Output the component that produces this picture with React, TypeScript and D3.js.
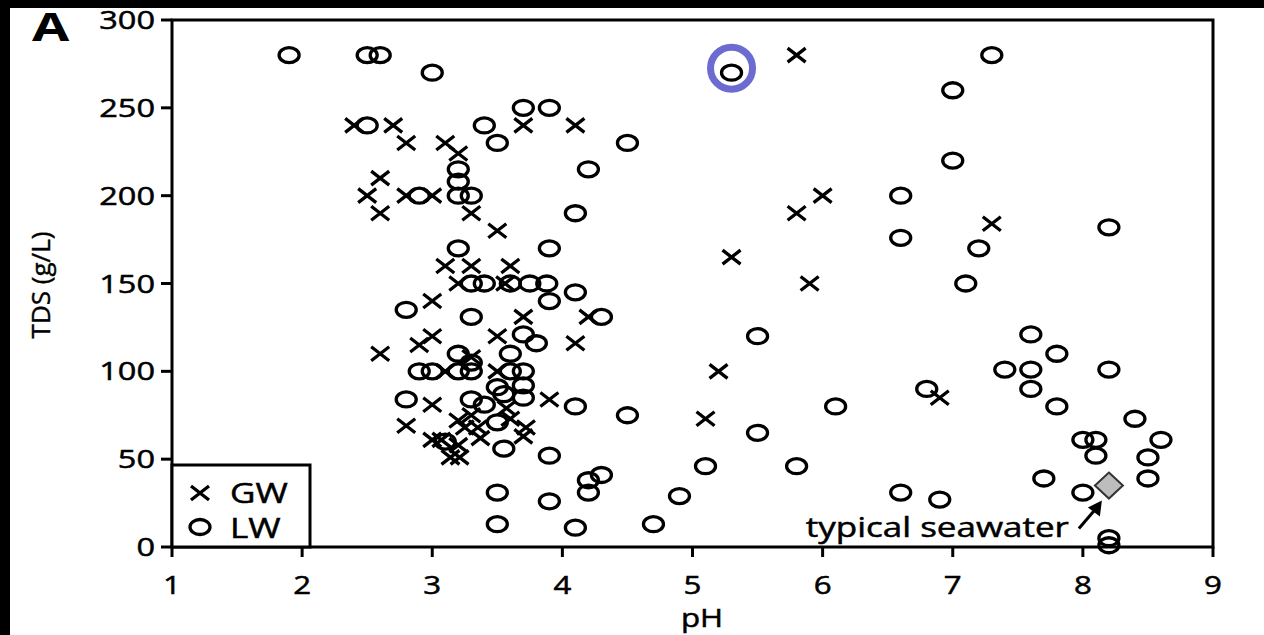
import React, { useEffect, useRef } from 'react';
import * as d3 from 'd3';

// GW = groundwater (crosses), LW = lake water (circles): [pH, TDS g/L]
const gwPoints: [number, number][] = [
  [2.4, 240], [2.7, 240], [2.8, 230], [3.1, 230], [3.2, 224], [3.7, 240], [4.1, 240], [5.8, 280],
  [2.6, 210], [2.5, 200], [2.6, 190], [2.8, 200], [3.0, 200], [3.3, 190], [3.5, 180],
  [6.0, 200], [5.8, 190], [7.3, 184], [5.3, 165], [5.9, 150],
  [3.1, 160], [3.3, 160], [3.6, 160], [3.2, 150], [3.56, 150],
  [3.0, 140], [3.7, 131], [4.2, 131], [3.0, 120], [2.9, 115], [3.5, 120], [4.1, 116], [2.6, 110], [3.3, 108],
  [3.1, 100], [3.5, 100], [5.2, 100],
  [3.0, 81], [3.9, 84], [3.57, 79], [5.1, 73], [6.9, 85],
  [2.8, 69], [3.2, 72], [3.25, 68], [3.3, 75], [3.35, 68], [3.6, 73],
  [3.0, 61], [3.07, 61], [3.37, 62], [3.7, 63], [3.72, 68],
  [3.14, 51], [3.21, 51], [3.2, 58]
];

const lwPoints: [number, number][] = [
  [1.9, 280], [2.5, 280], [2.6, 280], [3.0, 270], [5.3, 270], [7.3, 280],
  [2.5, 240], [3.4, 240], [3.5, 230], [3.7, 250], [3.9, 250], [4.5, 230], [7.0, 260], [7.0, 220],
  [3.2, 215], [3.2, 208], [4.2, 215], [2.9, 200], [3.2, 200], [3.3, 200], [4.1, 190],
  [6.6, 200], [6.6, 176], [7.2, 170], [8.2, 182],
  [3.2, 170], [3.9, 170], [3.3, 150], [3.4, 150], [3.6, 150], [3.75, 150], [3.88, 150], [4.1, 145], [3.9, 140], [7.1, 150],
  [2.8, 135], [3.3, 131], [4.3, 131], [3.7, 121], [3.8, 116], [5.5, 120], [3.2, 110], [3.3, 105], [3.6, 110],
  [2.9, 100], [3.0, 100], [3.2, 100], [3.3, 100], [3.6, 100], [3.7, 100],
  [3.5, 91], [3.7, 92], [3.7, 85], [3.55, 87],
  [2.8, 84], [3.3, 84], [3.4, 81], [4.1, 80], [4.5, 75], [5.5, 65], [6.1, 80],
  [3.5, 71], [3.55, 56], [3.9, 52], [3.1, 60],
  [3.5, 31], [3.9, 26], [4.2, 38], [4.3, 41], [4.2, 31], [4.9, 29], [5.1, 46], [3.5, 13], [4.1, 11], [4.7, 13], [5.8, 46],
  [7.6, 121], [7.8, 110], [7.4, 101], [7.6, 101], [8.2, 101], [7.6, 90], [6.8, 90], [7.8, 80], [8.4, 73],
  [8.0, 61], [8.1, 61], [8.6, 61], [8.1, 52], [8.5, 51], [7.7, 39], [8.5, 39], [8.0, 31], [6.6, 31], [6.9, 27],
  [8.2, 5], [8.2, 1]
];

const seawater: [number, number] = [8.2, 35];
const highlighted: [number, number] = [5.3, 272];
const xTicks = [1, 2, 3, 4, 5, 6, 7, 8, 9];
const yTicks = [0, 50, 100, 150, 200, 250, 300];

const W = 1264, H = 635;
const FONT = '"Open Sans", "DejaVu Sans", sans-serif';
const SX = 1.25; // the picture is stretched sideways
const INK = '#000';

export default function App() {
  const ref = useRef<SVGSVGElement>(null);

  useEffect(() => {
    const svg = d3.select(ref.current);
    svg.selectAll('*').remove();

    svg.append('rect').attr('width', W).attr('height', H).attr('fill', '#000');
    svg.append('rect').attr('x', 10).attr('y', 8).attr('width', W - 10).attr('height', H - 8).attr('fill', '#fff');

    const x = d3.scaleLinear().domain([1, 9]).range([172, 1213]);
    const y = d3.scaleLinear().domain([0, 300]).range([547, 20]);

    const stretched = (g: any, tx: number, ty: number, txt: string, size: number, anchor: string, weight = 'normal', sx = SX) =>
      g.append('text')
        .attr('transform', `translate(${tx},${ty}) scale(${sx},1)`)
        .attr('text-anchor', anchor)
        .attr('font-family', FONT)
        .attr('font-size', size)
        .attr('font-weight', weight)
        .attr('fill', INK)
        .attr('stroke', INK)
        .attr('stroke-width', weight === 'bold' ? 0 : 0.5)
        .text(txt);

    // frame
    svg.append('rect')
      .attr('x', x(1)).attr('y', y(300))
      .attr('width', x(9) - x(1)).attr('height', y(0) - y(300))
      .attr('fill', 'none').attr('stroke', INK).attr('stroke-width', 3);

    // y axis ticks + labels
    yTicks.forEach(t => {
      svg.append('line').attr('x1', x(1) - 11).attr('x2', x(1)).attr('y1', y(t)).attr('y2', y(t))
        .attr('stroke', INK).attr('stroke-width', 3);
      stretched(svg, x(1) - 17, y(t) + 9, String(t), 26, 'end');
    });
    // x axis ticks + labels
    xTicks.forEach(t => {
      svg.append('line').attr('x1', x(t)).attr('x2', x(t)).attr('y1', y(0)).attr('y2', y(0) + 10)
        .attr('stroke', INK).attr('stroke-width', 3);
      stretched(svg, x(t), 594, String(t), 25, 'middle');
    });

    stretched(svg, 702, 627, 'pH', 25, 'middle');
    svg.append('text')
      .attr('transform', `translate(50,285) rotate(-90)`)
      .attr('text-anchor', 'middle')
      .attr('font-family', FONT)
      .attr('font-size', 26)
      .attr('fill', INK)
      .attr('stroke', INK)
      .attr('stroke-width', 0.4)
      .text('TDS (g/L)');
    stretched(svg, 32, 41, 'A', 40, 'start', 'bold', 1.35);

    const cross = (g: any, cx: number, cy: number) => {
      g.append('path')
        .attr('d', `M${cx - 9},${cy - 7}L${cx + 9},${cy + 7}M${cx - 9},${cy + 7}L${cx + 9},${cy - 7}`)
        .attr('stroke', INK).attr('stroke-width', 3.3).attr('fill', 'none');
    };
    const ring = (g: any, cx: number, cy: number) => {
      g.append('ellipse').attr('cx', cx).attr('cy', cy).attr('rx', 10).attr('ry', 7.5)
        .attr('fill', 'none').attr('stroke', INK).attr('stroke-width', 3.3);
    };

    const marks = svg.append('g');
    lwPoints.forEach(d => ring(marks, x(d[0]), y(d[1])));
    gwPoints.forEach(d => cross(marks, x(d[0]), y(d[1])));

    // highlight ring
    svg.append('circle')
      .attr('cx', x(highlighted[0])).attr('cy', y(highlighted[1]) - 1).attr('r', 21)
      .attr('fill', 'none').attr('stroke', '#6b6bd2').attr('stroke-width', 7);

    // seawater diamond + arrow + label
    const sx = x(seawater[0]), sy = y(seawater[1]);
    svg.append('path')
      .attr('d', `M${sx},${sy - 13}L${sx + 14},${sy}L${sx},${sy + 13}L${sx - 14},${sy}Z`)
      .attr('fill', '#bdbdbd').attr('stroke', '#333').attr('stroke-width', 2);
    svg.append('line').attr('x1', sx - 30).attr('y1', sy + 43).attr('x2', sx - 12).attr('y2', sy + 22)
      .attr('stroke', INK).attr('stroke-width', 3);
    svg.append('path')
      .attr('d', `M${sx - 7},${sy + 15}L${sx - 9},${sy + 31}L${sx - 21},${sy + 22}Z`)
      .attr('fill', INK);
    stretched(svg, sx - 40, 537, 'typical seawater', 28, 'end');

    // legend
    svg.append('rect').attr('x', x(1)).attr('y', 465).attr('width', 138).attr('height', y(0) - 465)
      .attr('fill', '#fff').attr('stroke', INK).attr('stroke-width', 3);
    cross(svg, 200, 493);
    ring(svg, 200, 527);
    stretched(svg, 230, 503, 'GW', 28, 'start');
    stretched(svg, 230, 538, 'LW', 28, 'start');
  }, []);

  return (
    <svg ref={ref} width={W} height={H} style={{ position: 'absolute', left: 0, top: 0, display: 'block' }} />
  );
}
